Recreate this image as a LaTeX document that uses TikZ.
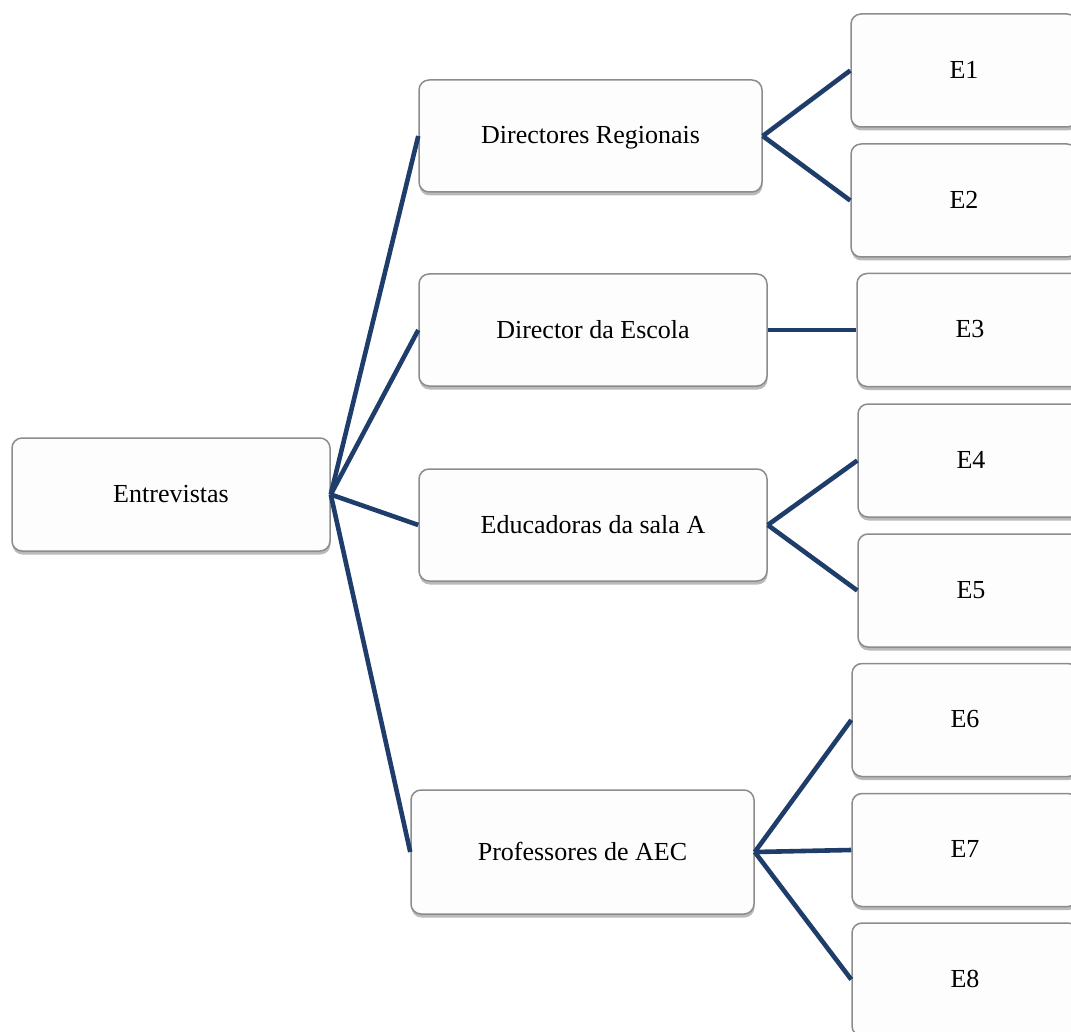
\documentclass[tikz,border=0pt]{standalone}
\usepackage{fontspec}
\setmainfont{Liberation Serif}
\usetikzlibrary{positioning,shadows}
\definecolor{linkblue}{RGB}{31,61,107}
\definecolor{boxline}{RGB}{140,140,140}
\begin{document}
\begin{tikzpicture}[
  x=1pt,y=-1pt,
  box/.style={draw=boxline,line width=1.5pt,fill=white!99.4!black,rounded corners=10pt,
    align=center,inner sep=0pt,text depth=2pt,font=\fontsize{26}{31}\selectfont,
    drop shadow={shadow xshift=0.5pt,shadow yshift=-3.5pt,opacity=0.45,fill=black!60}},
  mid/.style={box,minimum height=112pt},
  leaf/.style={box,minimum width=226pt,minimum height=113pt},
  link/.style={draw=linkblue,line width=4.6pt}
]
\clip (0,0) rectangle (1071,1032);
\node[box,minimum width=318pt,minimum height=113pt] (Root) at (171,494.5) {Entrevistas};
\node[mid,minimum width=343pt] (DirReg) at (590.5,136) {Directores Regionais};
\node[mid,minimum width=348pt] (DirEsc) at (593,330) {Director da Escola};
\node[mid,minimum width=348pt] (EduA) at (593,525) {Educadoras da sala A};
\node[box,minimum width=343pt,minimum height=124pt] (ProfAEC) at (582.5,852) {Professores de AEC};
\node[leaf] (E1) at (964,70.5) {E1};
\node[leaf] (E2) at (964,200.5) {E2};
\node[leaf] (E3) at (970,330) {E3};
\node[leaf] (E4) at (971,460.5) {E4};
\node[leaf] (E5) at (971,590.5) {E5};
\node[leaf] (E6) at (965,720) {E6};
\node[leaf] (E7) at (965,850) {E7};
\node[leaf] (E8) at (965,979.5) {E8};
\path (Root.east) edge[link] (DirReg.west)
(Root.east) edge[link] (DirEsc.west)
(Root.east) edge[link] (EduA.west)
(Root.east) edge[link] (ProfAEC.west)
(DirReg.east) edge[link] (E1.west)
(DirReg.east) edge[link] (E2.west)
(DirEsc.east) edge[link] (E3.west)
(EduA.east) edge[link] (E4.west)
(EduA.east) edge[link] (E5.west)
(ProfAEC.east) edge[link] (E6.west)
(ProfAEC.east) edge[link] (E7.west)
(ProfAEC.east) edge[link] (E8.west);
\end{tikzpicture}
\end{document}
